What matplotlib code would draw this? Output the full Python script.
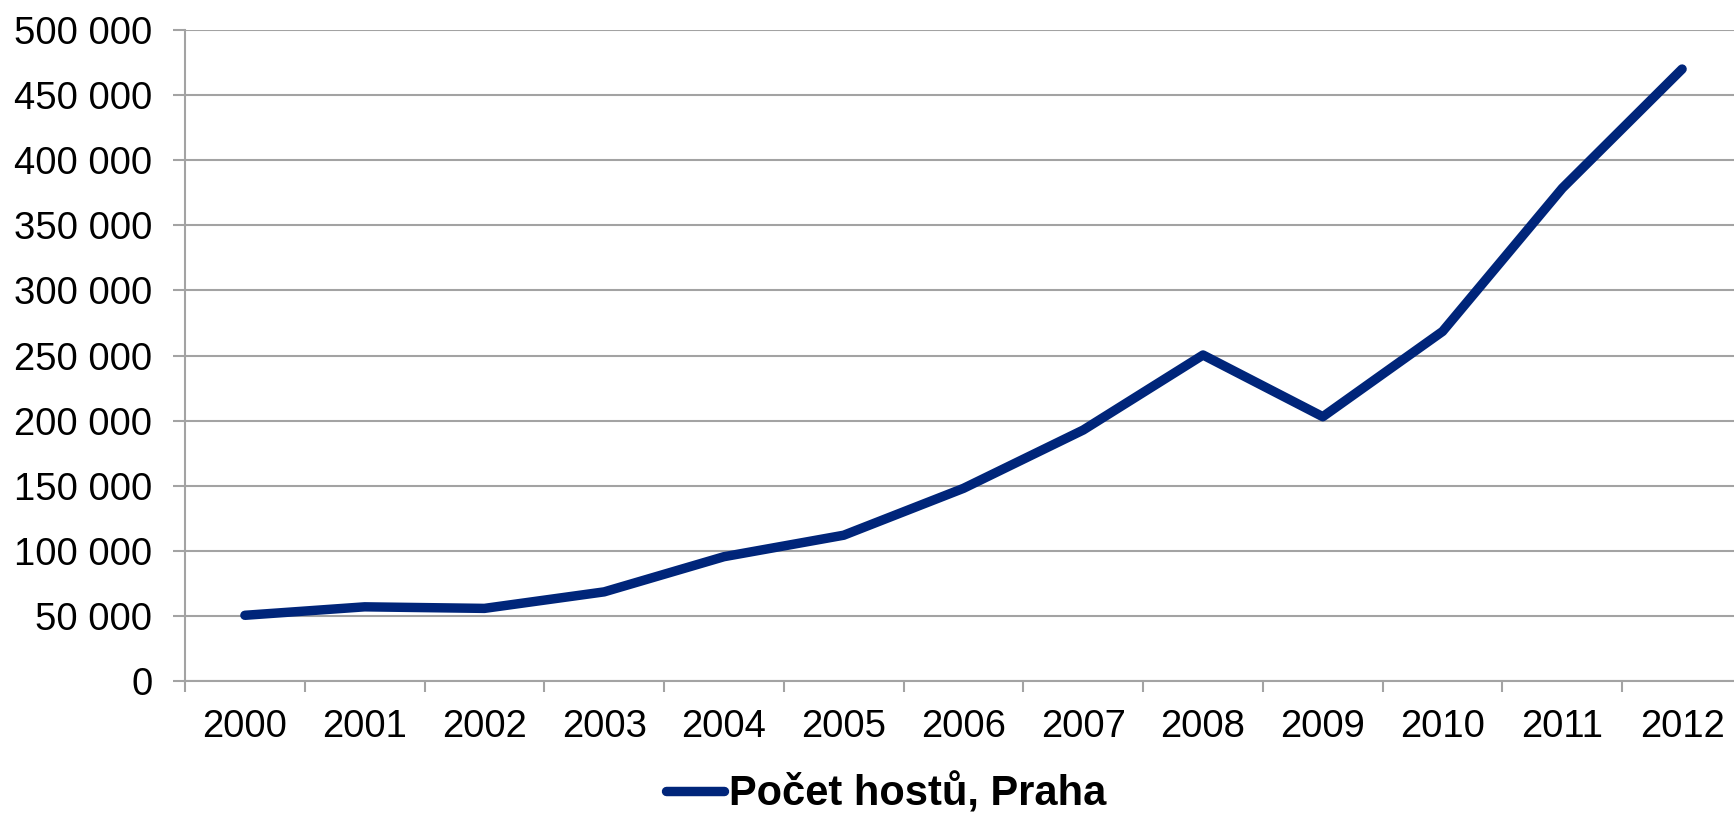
import matplotlib
matplotlib.use("Agg")
import matplotlib.pyplot as plt
from matplotlib.ticker import FixedLocator, FuncFormatter

# Data
years = ['2000', '2001', '2002', '2003', '2004', '2005', '2006',
         '2007', '2008', '2009', '2010', '2011', '2012']
guests = [50500, 57000, 55800, 68500, 95500, 112000, 148000,
          192800, 250400, 203000, 268500, 378500, 470000]
y_ticks = list(range(0, 500001, 50000))
series_name = 'Počet hostů, Praha'

plt.rcParams['font.family'] = ['Liberation Sans', 'DejaVu Sans']

fig = plt.figure(figsize=(17.34, 8.17), dpi=100)
ax = fig.add_axes([0.1067, 0.1664, 0.8979, 0.7969])

x = list(range(len(years)))
line_color = '#00257a'
grid_color = '#a3a3a3'

ax.plot(x, guests, color=line_color, linewidth=6.8,
        solid_capstyle='round', solid_joinstyle='round', label=series_name)

ax.set_xlim(-0.5, len(years) - 0.5)
ax.set_ylim(0, 500000)

# y axis
ax.yaxis.set_major_locator(FixedLocator(y_ticks))
ax.yaxis.set_major_formatter(FuncFormatter(lambda v, p: f'{int(v):,}'.replace(',', ' ')))
ax.grid(axis='y', color=grid_color, linewidth=1.5)
ax.set_axisbelow(True)

# x axis: ticks on category boundaries, labels at centres
ax.xaxis.set_major_locator(FixedLocator([i - 0.5 for i in range(len(years) + 1)]))
ax.xaxis.set_major_formatter(FuncFormatter(lambda v, p: ''))
ax.xaxis.set_minor_locator(FixedLocator(x))
ax.set_xticklabels(years, minor=True)

ax.tick_params(axis='y', which='major', length=8.5, width=1.5, color=grid_color,
               labelsize=27.5, pad=15)
ax.tick_params(axis='x', which='major', length=8, width=1.5, color=grid_color)
ax.tick_params(axis='x', which='minor', length=0, labelsize=27.5, pad=20)

for side in ['top', 'right']:
    ax.spines[side].set_visible(False)
for side in ['left', 'bottom']:
    ax.spines[side].set_color(grid_color)
    ax.spines[side].set_linewidth(1.5)

fig.legend(loc='center', bbox_to_anchor=(0.511, 0.028), frameon=False,
           prop={'size': 30, 'weight': 'bold'}, handlelength=1.39,
           handletextpad=0.12)

fig.savefig('out.png', dpi=100)
